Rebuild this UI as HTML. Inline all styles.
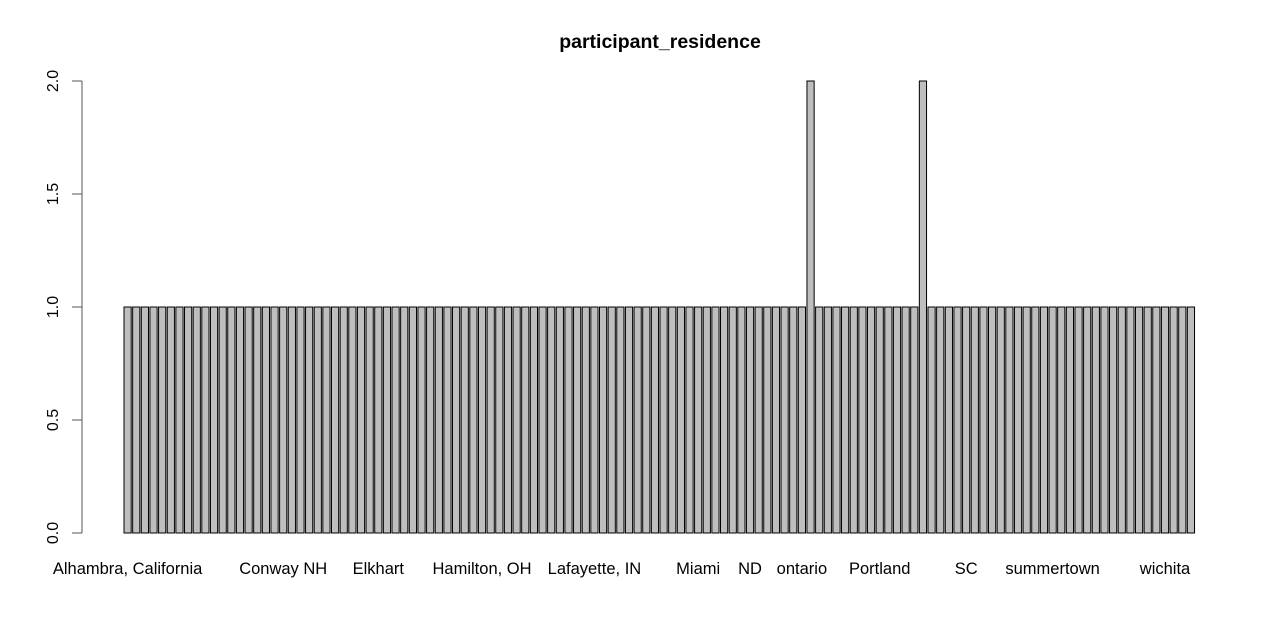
<!DOCTYPE html>
<html><head><meta charset="utf-8"><style>
html,body{margin:0;padding:0;background:#fff;}
svg{display:block;font-family:"Liberation Sans",Arial,sans-serif;}
</style></head><body>
<svg id="chart" width="1280" height="640" viewBox="0 0 1280 640">
<text x="660" y="48" text-anchor="middle" font-weight="bold" font-size="19.5">participant_residence</text>
<g id="bars"></g>
<g id="yaxis"></g>
<g id="xlabels"></g>
</svg>
<script>
const N = 124;
const labelIndex = [0, 18, 29, 41, 54, 66, 72, 78, 87, 97, 107, 120];
const labelText = ["Alhambra, California","Conway NH","Elkhart","Hamilton, OH","Lafayette, IN","Miami","ND","ontario","Portland","SC","summertown","wichita"];
const tallIndex = [79, 92];
const tallValue = [2, 2];
const categories = [];
const values = [];
for (let i = 0; i < N; i++) { categories.push(""); values.push(1); }
labelIndex.forEach((k, j) => { categories[k] = labelText[j]; });
tallIndex.forEach((k, j) => { values[k] = tallValue[j]; });
const yTicks = [0, 0.5, 1, 1.5, 2];
const yTickLabels = ["0.0", "0.5", "1.0", "1.5", "2.0"];

const NS = "http://www.w3.org/2000/svg";
const x0 = 124, pitch = 8.645, bw = 7.2;
const xPos = i => x0 + i * pitch;
const y = v => 533 - v * 226;

const bars = document.getElementById("bars");
values.forEach((v, i) => {
  const r = document.createElementNS(NS, "rect");
  r.setAttribute("x", xPos(i));
  r.setAttribute("y", y(v));
  r.setAttribute("width", bw);
  r.setAttribute("height", y(0) - y(v));
  r.setAttribute("fill", "#bebebe");
  r.setAttribute("stroke", "#000");
  r.setAttribute("stroke-width", "1");
  
  
  bars.appendChild(r);
});

const ya = document.getElementById("yaxis");
const ax = document.createElementNS(NS, "line");
ax.setAttribute("x1", 82); ax.setAttribute("x2", 82);
ax.setAttribute("y1", y(yTicks[0])); ax.setAttribute("y2", y(yTicks[yTicks.length - 1]));
ax.setAttribute("stroke", "#555");


ya.appendChild(ax);
yTicks.forEach((t, i) => {
  const l = document.createElementNS(NS, "line");
  l.setAttribute("x1", 72); l.setAttribute("x2", 82);
  l.setAttribute("y1", y(t)); l.setAttribute("y2", y(t));
  l.setAttribute("stroke", "#555");
  
  
  ya.appendChild(l);
  const tx = document.createElementNS(NS, "text");
  tx.setAttribute("transform", "translate(58," + y(t) + ") rotate(-90)");
  tx.setAttribute("text-anchor", "middle");
  tx.setAttribute("font-size", "16");
  tx.textContent = yTickLabels[i];
  
  
  ya.appendChild(tx);
});

const xl = document.getElementById("xlabels");
categories.forEach((c, i) => {
  if (!c) return;
  const tx = document.createElementNS(NS, "text");
  tx.setAttribute("x", xPos(i) + bw / 2);
  tx.setAttribute("y", 574);
  tx.setAttribute("text-anchor", "middle");
  tx.setAttribute("font-size", "16.5");
  tx.textContent = c;
  
  
  xl.appendChild(tx);
});
</script>
</body></html>
